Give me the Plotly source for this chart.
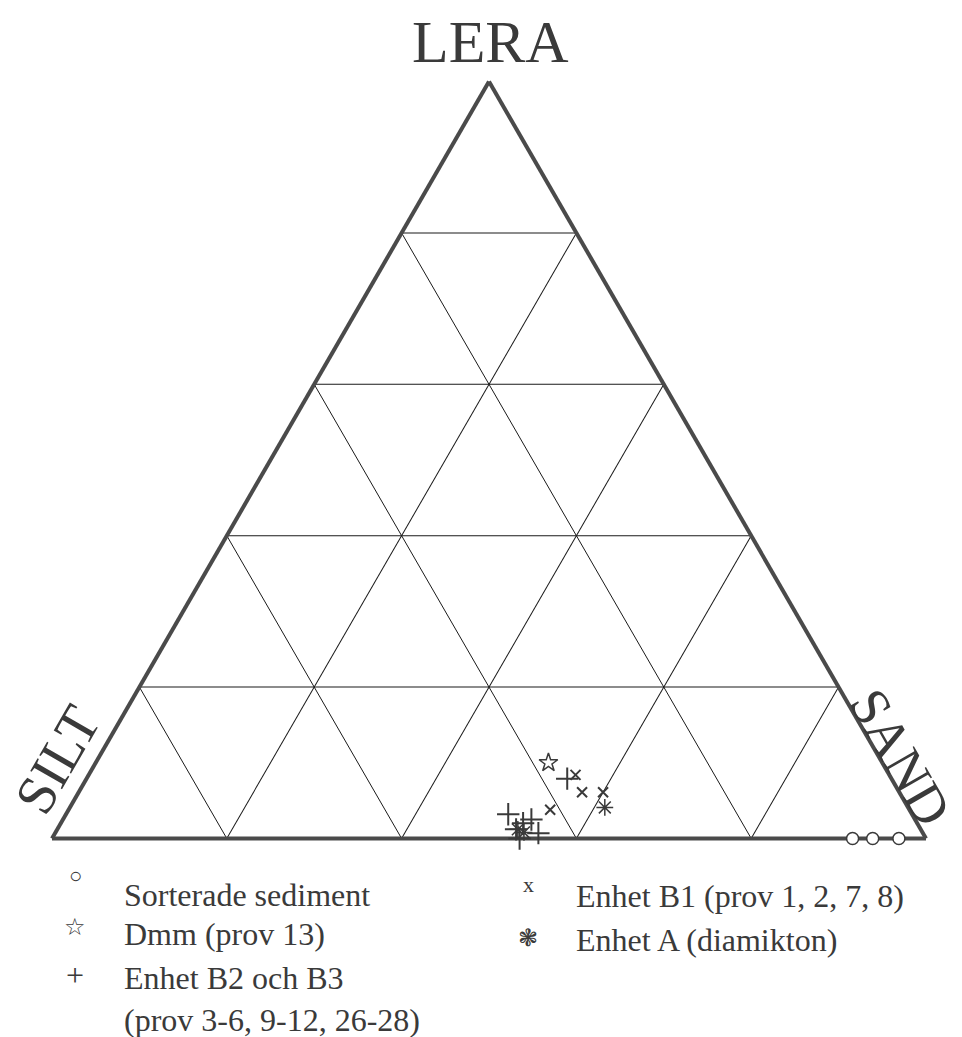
import plotly.graph_objects as go

# Grain-size composition (%) of the samples: lera (clay), silt, sand
sort_lera = [0.0, 0.0, 0.0]
sort_silt = [8.4, 6.1, 3.1]
sort_sand = [91.6, 93.9, 96.9]

dmm_lera = [10.0]
dmm_silt = [38.2]
dmm_sand = [51.8]

b23_lera = [7.9, 3.2, 2.5, 2.0, 0.7, 0.0, 1.2]
b23_silt = [37.1, 46.2, 43.9, 45.1, 44.0, 46.5, 46.3]
b23_sand = [55.0, 50.6, 53.6, 52.9, 55.3, 53.5, 52.5]

b1_lera = [8.4, 6.1, 3.8, 6.1]
b1_silt = [35.9, 36.3, 41.1, 33.9]
b1_sand = [55.7, 57.6, 55.1, 60.0]

a_lera = [4.1, 1.2, 0.8]
a_silt = [34.7, 46.1, 45.6]
a_sand = [61.2, 52.7, 53.6]

legend_symbols = ["\u25cb", "\u2606", "+", "x", "\u2743"]
legend_symbol_sizes = [22, 24, 32, 22, 24]
legend_labels = [
    "Sorterade sediment",
    "Dmm (prov 13)",
    "Enhet B2 och B3",
    "Enhet B1 (prov 1, 2, 7, 8)",
    "Enhet A (diamikton)",
]
legend_extra = "(prov 3-6, 9-12, 26-28)"

W, H = 962, 1037
INK = "#3a3a3a"
SERIF = "'Liberation Serif', 'Times New Roman', 'DejaVu Serif', serif"


def px(x):
    return x / W


def py(y):
    return 1 - y / H


fig = go.Figure()

mline = dict(color=INK, width=1.5)
common = dict(mode="markers", cliponaxis=False)
fig.add_trace(go.Scatterternary(
    a=sort_lera, b=sort_silt, c=sort_sand, **common,
    marker=dict(symbol="circle", size=12, color="white", line=mline)))
fig.add_trace(go.Scatterternary(
    a=dmm_lera, b=dmm_silt, c=dmm_sand, **common,
    marker=dict(symbol="star-open", size=14, color=INK, line=mline)))
fig.add_trace(go.Scatterternary(
    a=b23_lera, b=b23_silt, c=b23_sand, **common,
    marker=dict(symbol="cross-thin-open", size=16, color=INK, line=dict(color=INK, width=2))))
fig.add_trace(go.Scatterternary(
    a=b1_lera, b=b1_silt, c=b1_sand, **common,
    marker=dict(symbol="x-thin-open", size=10, color=INK, line=dict(color=INK, width=2))))
fig.add_trace(go.Scatterternary(
    a=a_lera, b=a_silt, c=a_sand, **common,
    marker=dict(symbol="asterisk-open", size=14, color=INK, line=mline)))

axis_style = dict(
    min=0, tick0=0, dtick=20, showticklabels=False, ticks="",
    showgrid=True, gridcolor="#1a1a1a", gridwidth=1,
    showline=True, linecolor="#4a4a4a", linewidth=4,
    layer="below traces", title=dict(text=""),
)

fig.update_layout(
    width=W, height=H,
    margin=dict(l=0, r=0, t=0, b=0),
    paper_bgcolor="white",
    showlegend=False,
    font=dict(family=SERIF, color=INK),
    ternary=dict(
        sum=100,
        domain=dict(x=[px(52), px(926)], y=[py(839), py(81)]),
        bgcolor="white",
        aaxis=axis_style, baxis=axis_style, caxis=axis_style,
    ),
)

# Corner labels
fig.add_annotation(x=px(490), y=py(42), text="LERA", showarrow=False,
                   xanchor="center", yanchor="middle",
                   font=dict(family=SERIF, size=60, color=INK))
fig.add_annotation(x=px(57), y=py(760), text="SILT", showarrow=False,
                   textangle=-60, xanchor="center", yanchor="middle",
                   font=dict(family=SERIF, size=56, color=INK))
fig.add_annotation(x=px(900), y=py(757), text="SAND", showarrow=False,
                   textangle=60, xanchor="center", yanchor="middle",
                   font=dict(family=SERIF, size=54, color=INK))

# Legend drawn as text rows
legend_rows = [
    (75, 875, 122, 895),
    (75, 927, 122, 934),
    (75, 975, 122, 978),
    (528, 884, 574, 896),
    (528, 938, 574, 940),
]
for sym, size, lab, (sx, sy, tx, ty) in zip(legend_symbols, legend_symbol_sizes,
                                             legend_labels, legend_rows):
    fig.add_annotation(x=px(sx), y=py(sy), text=sym, showarrow=False,
                       xanchor="center", yanchor="middle",
                       font=dict(family=SERIF, size=size, color=INK))
    fig.add_annotation(x=px(tx), y=py(ty), text=lab, showarrow=False,
                       xanchor="left", yanchor="middle",
                       font=dict(family=SERIF, size=32, color=INK))
fig.add_annotation(x=px(122), y=py(1020), text=legend_extra, showarrow=False,
                   xanchor="left", yanchor="middle",
                   font=dict(family=SERIF, size=32, color=INK))

fig.write_html("out.html")
